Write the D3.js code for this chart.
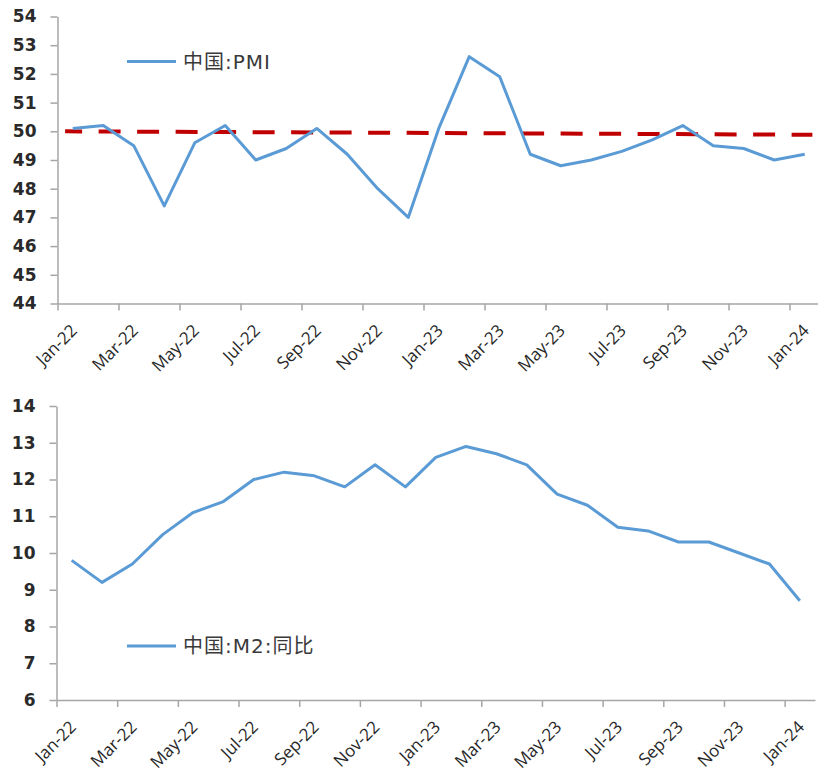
<!DOCTYPE html>
<html>
<head>
<meta charset="utf-8">
<script src="https://cdn.jsdelivr.net/npm/d3@7"></script>
<style>
  body { margin: 0; background: #fff; }
  .axis path, .axis line { stroke: #a6a6a6; stroke-width: 1.5; }
</style>
</head>
<body>
<script>
// months on the x axis, one value per month
var months = ["Jan-22", "Feb-22", "Mar-22", "Apr-22", "May-22", "Jun-22",
  "Jul-22", "Aug-22", "Sep-22", "Oct-22", "Nov-22", "Dec-22",
  "Jan-23", "Feb-23", "Mar-23", "Apr-23", "May-23", "Jun-23",
  "Jul-23", "Aug-23", "Sep-23", "Oct-23", "Nov-23", "Dec-23", "Jan-24"];
// labelled every other month
var tickLabels = ["Jan-22", "Mar-22", "May-22", "Jul-22", "Sep-22", "Nov-22",
  "Jan-23", "Mar-23", "May-23", "Jul-23", "Sep-23", "Nov-23", "Jan-24"];

// China PMI
var pmi = [50.1, 50.2, 49.5, 47.4, 49.6, 50.2, 49.0, 49.4, 50.1, 49.2, 48.0, 47.0,
  50.1, 52.6, 51.9, 49.2, 48.8, 49.0, 49.3, 49.7, 50.2, 49.5, 49.4, 49.0, 49.2];
// red dashed reference line (start, end)
var pmiRef = [50.0, 49.88];
var pmiTicks = [44, 45, 46, 47, 48, 49, 50, 51, 52, 53, 54];

// China M2 yoy
var m2 = [9.8, 9.2, 9.7, 10.5, 11.1, 11.4, 12.0, 12.2, 12.1, 11.8, 12.4, 11.8,
  12.6, 12.9, 12.7, 12.4, 11.6, 11.3, 10.7, 10.6, 10.3, 10.3, 10.0, 9.7, 8.7];
var m2Ticks = [6, 7, 8, 9, 10, 11, 12, 13, 14];

var svg = d3.select('body').append('svg')
    .attr('width', 818)
    .attr('height', 775);

function drawPanel(cfg) {
  // index scale: each month is one slot, tick at slot start, point in the middle
  var x = d3.scaleLinear()
      .domain([0, months.length])
      .range([cfg.left, cfg.right]);
  var y = d3.scaleLinear()
      .domain(d3.extent(cfg.ticks))
      .range([cfg.bottom, cfg.top]);

  var g = svg.append('g');

  // y axis
  var yAxis = g.append('g')
      .attr('class', 'axis')
      .attr('transform', `translate(${cfg.left}, 0)`)
      .call(d3.axisLeft(y).tickValues(cfg.ticks).tickSize(7).tickSizeOuter(0).tickPadding(14));
  yAxis.selectAll('text')
      .style('font-family', 'DejaVu Sans, sans-serif')
      .style('font-size', '17px')
      .style('font-weight', 'bold')
      .attr('fill', '#2a2a2a');

  // x axis
  var tickIdx = tickLabels.map(function(l) { return months.indexOf(l); });
  var xAxis = g.append('g')
      .attr('class', 'axis')
      .attr('transform', `translate(0, ${cfg.bottom})`)
      .call(d3.axisBottom(x).tickValues(tickIdx).tickSize(7).tickSizeOuter(0)
        .tickFormat(function(i) { return months[i]; }));
  xAxis.selectAll('text')
      .attr('x', 0).attr('y', 0).attr('dy', '0.35em')
      .attr('transform', 'translate(16, 24) rotate(-45)')
      .style('text-anchor', 'end')
      .style('font-family', 'Open Sans, sans-serif')
      .style('font-size', '17px')
      .attr('fill', '#262626');

  // reference line
  if (cfg.ref) {
    g.append('line')
        .attr('x1', x(0.25)).attr('y1', y(cfg.ref[0]))
        .attr('x2', x(months.length - 0.25)).attr('y2', y(cfg.ref[1]))
        .attr('stroke', '#c00000')
        .attr('stroke-width', 4)
        .attr('stroke-dasharray', '22,16.5')
        .attr('stroke-dashoffset', 5);
  }

  // series line
  var line = d3.line()
      .x(function(d, i) { return x(i + 0.5); })
      .y(function(d) { return y(d); });
  g.append('path')
      .datum(cfg.values)
      .attr('d', line)
      .attr('fill', 'none')
      .attr('stroke', '#5b9bd5')
      .attr('stroke-width', 3)
      .attr('stroke-linejoin', 'round');

  // legend
  g.append('line')
      .attr('x1', 127).attr('x2', 176)
      .attr('y1', cfg.legendY).attr('y2', cfg.legendY)
      .attr('stroke', '#5b9bd5')
      .attr('stroke-width', 3);
  g.append('text')
      .attr('x', 183)
      .attr('y', cfg.legendY)
      .attr('dy', '0.35em')
      .style('font-family', 'DejaVu Sans, Noto Sans CJK SC, sans-serif')
      .style('font-size', '20px')
      .style('letter-spacing', '1px')
      .attr('fill', '#3a3a3a')
      .text(cfg.legend);
}

drawPanel({ left: 57.5, right: 820, top: 16.5, bottom: 303.5,
  ticks: pmiTicks, values: pmi, ref: pmiRef, legend: '中国:PMI', legendY: 61.5 });
drawPanel({ left: 56.5, right: 815, top: 406, bottom: 700,
  ticks: m2Ticks, values: m2, legend: '中国:M2:同比', legendY: 646 });
</script>
</body>
</html>
